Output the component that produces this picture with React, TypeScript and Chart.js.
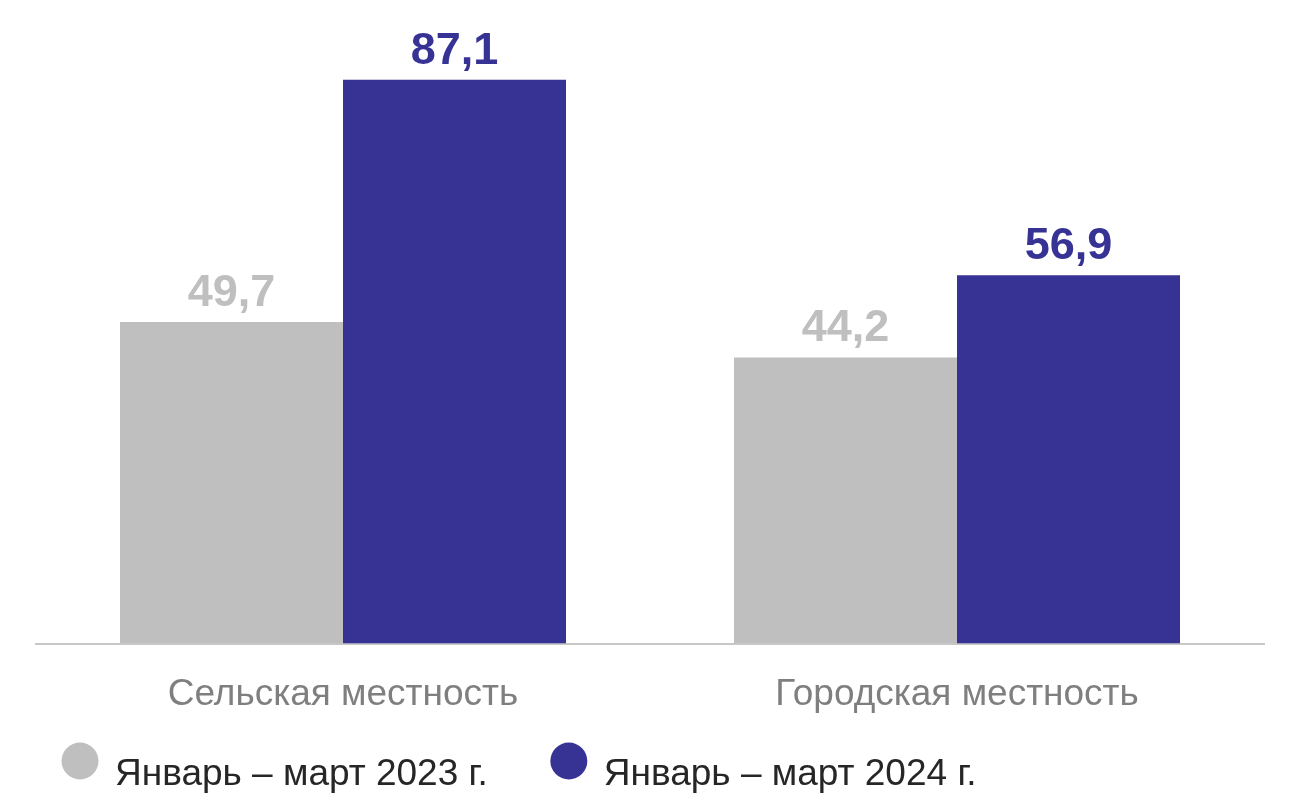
import React, { useEffect, useRef } from "react";
import { Chart, registerables } from "chart.js";

Chart.register(...registerables);

const categories = ["Сельская местность", "Городская местность"];
const seriesLabels = ["Январь – март 2023 г.", "Январь – март 2024 г."];
const values2023 = [49.7, 44.2];
const values2024 = [87.1, 56.9];
const colors = ["#bfbfbf", "#373395"];

const FONT = "'Liberation Sans', Arial, sans-serif";

const valueLabelPlugin = {
  id: "valueLabels",
  afterDatasetsDraw(chart: any) {
    const ctx = chart.ctx;
    ctx.save();
    ctx.font = `bold 45px ${FONT}`;
    ctx.textAlign = "center";
    ctx.textBaseline = "alphabetic";
    chart.data.datasets.forEach((ds: any, i: number) => {
      const meta = chart.getDatasetMeta(i);
      ctx.fillStyle = ds.backgroundColor;
      meta.data.forEach((el: any, j: number) => {
        const v = ds.data[j];
        ctx.fillText(String(v).replace(".", ","), el.x, el.y - 16);
      });
    });
    ctx.restore();
  },
};

const legendPlugin = {
  id: "customLegend",
  afterDraw(chart: any) {
    const ctx = chart.ctx;
    ctx.save();
    ctx.font = `37px ${FONT}`;
    ctx.textBaseline = "alphabetic";
    ctx.textAlign = "left";
    let cx = 80;
    const cy = 761;
    const r = 18.5;
    chart.data.datasets.forEach((ds: any) => {
      ctx.fillStyle = ds.backgroundColor;
      ctx.beginPath();
      ctx.arc(cx, cy, r, 0, Math.PI * 2);
      ctx.fill();
      ctx.fillStyle = "#262626";
      const tx = cx + 35;
      ctx.fillText(ds.label, tx, 785);
      const w = ctx.measureText(ds.label).width;
      cx = tx + w + 81;
    });
    ctx.restore();
  },
};

export default function App() {
  const ref = useRef<HTMLCanvasElement | null>(null);
  useEffect(() => {
    const prevMargin = document.body.style.margin;
    document.body.style.margin = "0";
    if (!ref.current) return;
    const chart = new Chart(ref.current, {
      type: "bar",
      data: {
        labels: categories,
        datasets: [
          {
            label: seriesLabels[0],
            data: values2023,
            backgroundColor: colors[0],
            categoryPercentage: 0.7264,
            barPercentage: 1,
          },
          {
            label: seriesLabels[1],
            data: values2024,
            backgroundColor: colors[1],
            categoryPercentage: 0.7264,
            barPercentage: 1,
          },
        ],
      },
      options: {
        responsive: false,
        animation: false,
        layout: { padding: { left: 36, right: 31, top: 61, bottom: 56 } },
        plugins: {
          legend: { display: false },
          tooltip: { enabled: false },
        },
        scales: {
          x: {
            grid: { display: false },
            border: { display: true, color: "#c8c8c8", width: 2 },
            ticks: {
              color: "#7f7f7f",
              font: { family: FONT, size: 37 },
              padding: 21,
            },
          },
          y: {
            display: false,
            min: 0,
            max: 90,
          },
        },
      },
      plugins: [valueLabelPlugin, legendPlugin],
    });
    return () => {
      chart.destroy();
      document.body.style.margin = prevMargin;
    };
  }, []);
  return (
    <div style={{ width: 1295, height: 794, position: "relative" }}>
      <canvas ref={ref} width={1295} height={794} style={{ display: "block" }} />
    </div>
  );
}
